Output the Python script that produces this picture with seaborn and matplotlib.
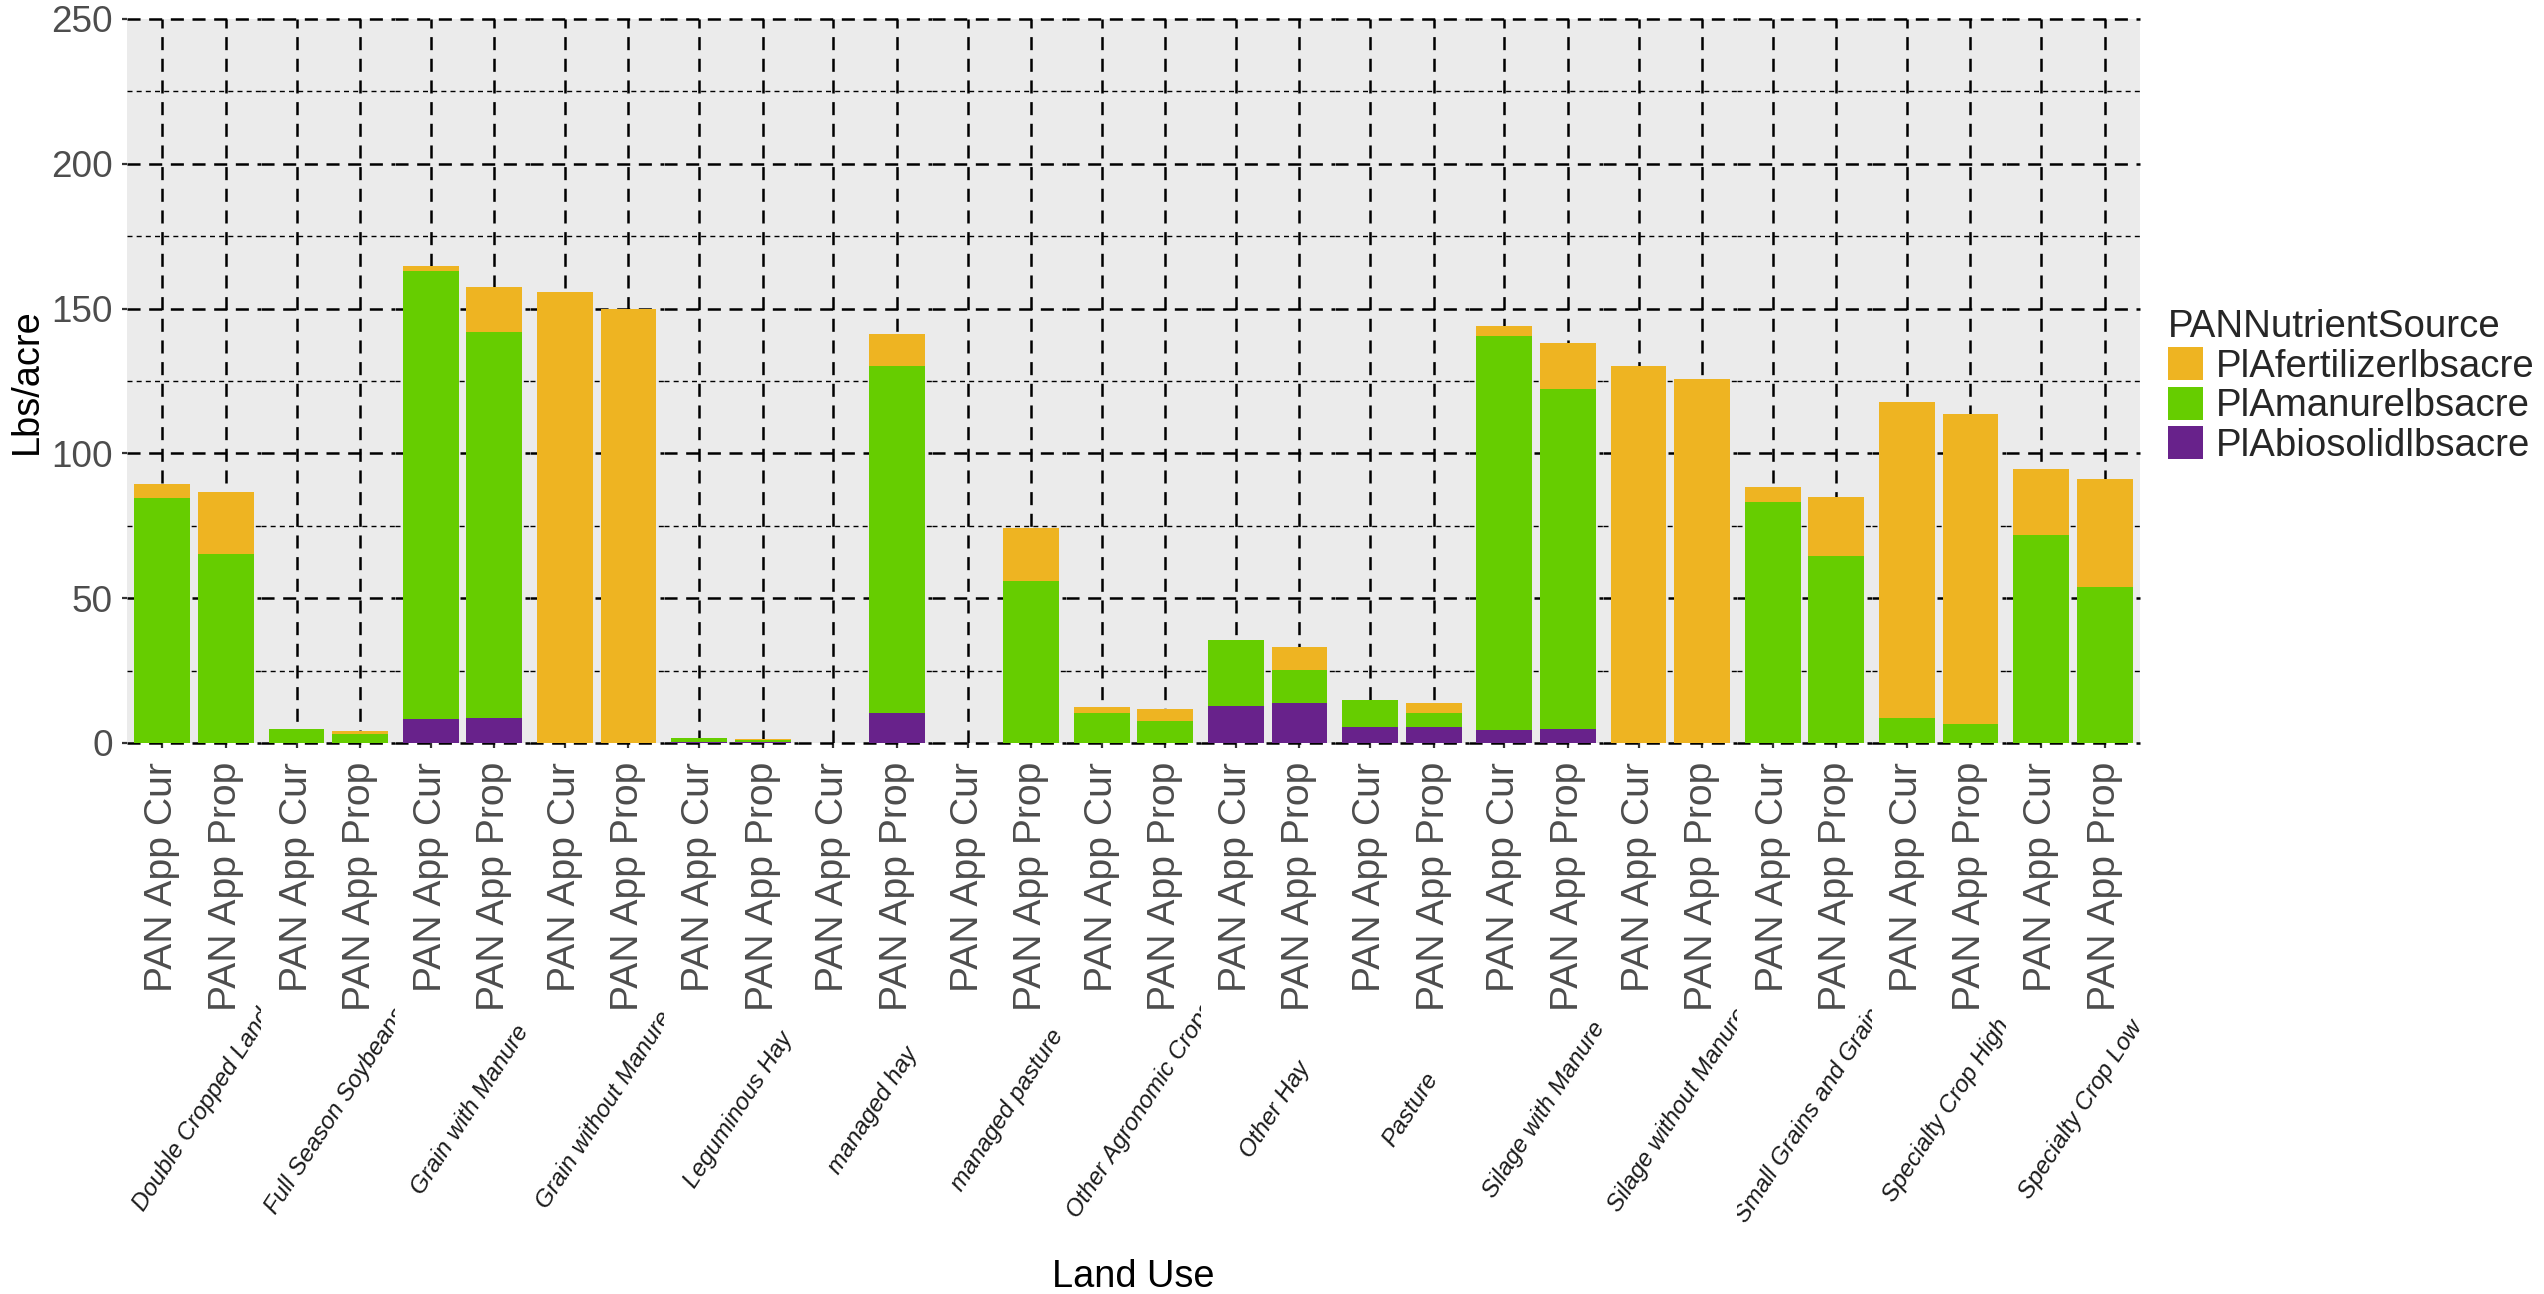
import matplotlib
matplotlib.use("Agg")
import matplotlib.pyplot as plt
import pandas as pd
import seaborn as sns
from matplotlib.patches import Patch
from matplotlib.ticker import MultipleLocator
from matplotlib.transforms import Bbox, TransformedBbox

# Land-use facets and the two application scenarios inside each facet
land_uses = [
    "Double Cropped Land", "Full Season Soybeans", "Grain with Manure",
    "Grain without Manure", "Leguminous Hay", "managed hay", "managed pasture",
    "Other Agronomic Crops", "Other Hay", "Pasture", "Silage with Manure",
    "Silage without Manure", "Small Grains and Grains", "Specialty Crop High",
    "Specialty Crop Low",
]
scenarios = ["PAN App Cur", "PAN App Prop"]

# Plant-available N (lbs/acre) by source
fert_cur = [4.7, 0.0, 1.7, 155.6, 0.0, 0.0, 0.0, 1.9, 0.0, 0.0, 3.6, 130.3, 5.0, 109.1, 22.8]
fert_prop = [21.3, 1.0, 15.6, 150.0, 0.5, 11.1, 18.3, 4.2, 7.8, 3.3, 16.1, 125.6, 20.6, 107.3, 37.1]
manure_cur = [84.7, 5.0, 154.8, 0.0, 1.4, 0.0, 0.0, 10.5, 22.7, 9.2, 136.0, 0.0, 83.3, 8.6, 71.9]
manure_prop = [65.3, 3.1, 133.3, 0.0, 0.6, 119.8, 56.1, 7.7, 11.4, 5.0, 117.1, 0.0, 64.4, 6.4, 53.9]
bio_cur = [0.0, 0.0, 8.3, 0.0, 0.3, 0.0, 0.0, 0.0, 12.8, 5.5, 4.5, 0.0, 0.0, 0.0, 0.0]
bio_prop = [0.0, 0.0, 8.6, 0.0, 0.3, 10.5, 0.0, 0.0, 13.8, 5.5, 5.0, 0.0, 0.0, 0.0, 0.0]

sources = ["PlAfertilizerlbsacre", "PlAmanurelbsacre", "PlAbiosolidlbsacre"]
source_colors = ["#EEB422", "#66CD00", "#68228B"]

rows = []
for i, lu in enumerate(land_uses):
    rows.append(dict(LandUse=lu, Scenario=scenarios[0],
                     fert=fert_cur[i], manure=manure_cur[i], bio=bio_cur[i]))
    rows.append(dict(LandUse=lu, Scenario=scenarios[1],
                     fert=fert_prop[i], manure=manure_prop[i], bio=bio_prop[i]))
df = pd.DataFrame(rows)
# cumulative heights for stacking (fertilizer on top, biosolids at the base)
df["stack_fert"] = df["fert"] + df["manure"] + df["bio"]
df["stack_manure"] = df["manure"] + df["bio"]
df["stack_bio"] = df["bio"]
stack_cols = ["stack_fert", "stack_manure", "stack_bio"]

sns.set_theme(style="darkgrid")
plt.rcParams["font.family"] = ["Liberation Sans", "DejaVu Sans"]
plt.rcParams["lines.scale_dashes"] = False

W, H, DPI = 2544, 1294, 200
fig = plt.figure(figsize=(W / DPI, H / DPI), dpi=DPI)
fig.patch.set_facecolor("white")

px_left, px_right, px_top, px_bottom = 127, 2140, 19, 743
panel_w = (px_right - px_left) / len(land_uses)

major_dash = (0, (4.7, 3.1))
minor_dash = (0, (1.8, 1.5))
tick_grey = "#4D4D4D"

for i, lu in enumerate(land_uses):
    left = (px_left + i * panel_w) / W
    ax = fig.add_axes([left, 1 - px_bottom / H, panel_w / W, (px_bottom - px_top) / H])
    ax.set_facecolor("#EBEBEB")
    sub = df[df["LandUse"] == lu]
    for col, color in zip(stack_cols, source_colors):
        sns.barplot(data=sub, x="Scenario", y=col, order=scenarios, color=color,
                    saturation=1, width=0.88, errorbar=None, linewidth=0,
                    edgecolor="none", ax=ax)

    ax.set_xlim(-0.558, 1.558)
    ax.set_ylim(0, 250)
    ax.set_xlabel("")
    ax.set_ylabel("")
    for sp in ax.spines.values():
        sp.set_visible(False)

    ax.yaxis.set_major_locator(MultipleLocator(50))
    ax.yaxis.set_minor_locator(MultipleLocator(25))
    ax.set_axisbelow(True)
    ax.grid(False)
    ax.grid(True, axis="x", which="major", color="black", linestyle=major_dash, linewidth=0.9)
    ax.grid(True, axis="y", which="major", color="black", linestyle=major_dash, linewidth=0.9)
    ax.grid(True, axis="y", which="minor", color="black", linestyle=minor_dash, linewidth=0.5)
    for gl in ax.get_ygridlines():
        gl.set_clip_on(False)

    ax.set_xticks([0, 1])
    ax.set_xticklabels(scenarios, rotation=90, fontsize=14.1, color=tick_grey)
    ax.tick_params(axis="x", bottom=True, length=1.8, width=0.8, color="#333333", pad=5)
    ax.tick_params(axis="y", which="minor", left=False, length=0)
    if i == 0:
        ax.tick_params(axis="y", which="major", left=True, labelleft=True, length=1.8,
                       width=0.8, color="#333333", pad=3.2, labelsize=13.3, labelcolor=tick_grey)
    else:
        ax.tick_params(axis="y", which="both", left=False, labelleft=False)

    # facet strip label below the panel, clipped to the facet's width
    strip = ax.text(0.56, -0.507, lu, transform=ax.transAxes, rotation=57,
                    rotation_mode="anchor", ha="center", va="center", fontsize=8.7,
                    style="italic", color="#1A1A1A")
    strip.set_clip_path(None)
    strip.set_clip_box(TransformedBbox(Bbox([[0, -0.95], [1, -0.33]]), ax.transAxes))
    strip.set_clip_on(True)

fig.text(27 / W, 1 - 381 / H, "Lbs/acre", rotation=90, ha="center", va="center",
         fontsize=13.7, color="black")
fig.text(1133 / W, 1 - 1277 / H, "Land Use", ha="center", va="center",
         fontsize=13.7, color="black")

handles = [Patch(facecolor=c, edgecolor="none", label=s) for s, c in zip(sources, source_colors)]
fig.legend(handles=handles, title="PANNutrientSource", loc="upper left",
           bbox_to_anchor=(2168 / W, 1 - 309 / H), frameon=False, fontsize=13.8,
           title_fontsize=13.8, handlelength=0.9, handleheight=0.95,
           handletextpad=0.35, labelspacing=0.05, borderaxespad=0, borderpad=0,
           alignment="left")

fig.savefig("out.png", dpi=DPI)
